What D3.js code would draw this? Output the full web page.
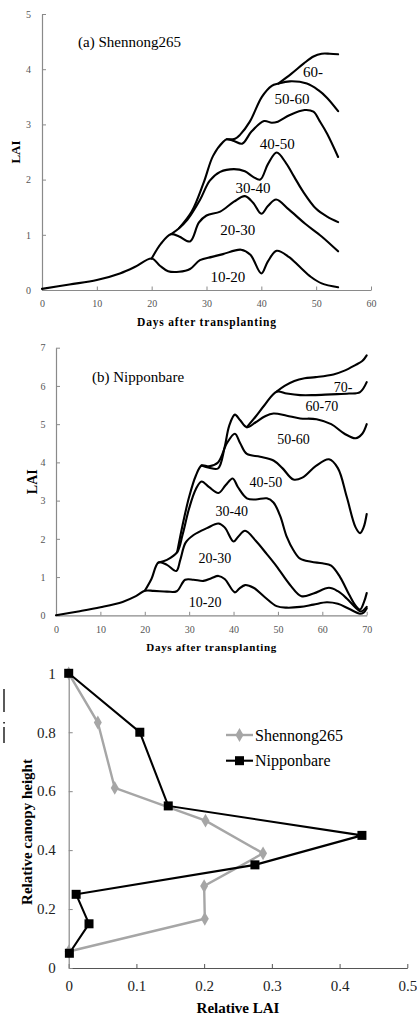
<!DOCTYPE html>
<html><head><meta charset="utf-8">
<script src="https://cdn.jsdelivr.net/npm/d3@7"></script>
<style>
html,body{margin:0;padding:0;background:#fff;}
svg{display:block;font-family:"Liberation Serif","Times New Roman",serif;}
</style></head>
<body>
<svg id="chart" width="417" height="1019"></svg>
<script>
// ---------- Panel (a) Shennong265 : cumulative LAI by layer (day, LAI) ----------
const shen_10_20 = [[0,0.02],[5,0.1],[10,0.18],[14.2,0.3],[17,0.42],[20,0.57],[21.5,0.44],[23,0.34],[25,0.33],[27,0.38],[28.8,0.54],[31,0.6],[33,0.65],[36.3,0.73],[38,0.64],[40,0.3],[41.2,0.52],[42.8,0.71],[45,0.6],[47,0.42],[49,0.24],[51,0.12],[54,0.05]];
const shen_20_30 = [[20,0.57],[21.7,0.84],[23.5,1.01],[25,0.97],[27,0.88],[28.6,1.22],[30,1.35],[32.5,1.42],[35,1.6],[37,1.7],[38.5,1.58],[40,1.38],[41.2,1.52],[42.7,1.64],[45,1.46],[48,1.2],[51,0.97],[54,0.7]];
const shen_30_40 = [[23.5,1.01],[25,1.12],[26.5,1.27],[28.8,1.63],[30.6,1.98],[32.5,2.14],[35,2.19],[37,2.15],[38.5,2.05],[39.8,2.0],[41.2,2.28],[42.8,2.49],[44.5,2.3],[46,2.05],[47.5,1.8],[50,1.47],[52,1.33],[54,1.23]];
const shen_40_50 = [[25,1.12],[27.3,1.42],[29.5,1.95],[31.2,2.43],[33.1,2.69],[33.7,2.73],[35,2.7],[36.5,2.65],[38.2,2.87],[40.5,3.06],[41.9,3.03],[43,3.05],[45.2,3.17],[47.9,3.26],[49.5,3.23],[50.7,3.05],[52,2.83],[54,2.41]];
const shen_50_60 = [[33.7,2.73],[35.2,2.74],[36.1,2.81],[37.9,3.05],[40.1,3.5],[41.9,3.7],[43.1,3.74],[45.2,3.78],[48.3,3.74],[50.4,3.62],[52,3.48],[54,3.24]];
const shen_60 = [[43.1,3.74],[45.5,3.92],[47.7,4.1],[49.5,4.23],[51,4.28],[52.5,4.28],[54,4.27]];
const shenLayers = ["10-20","20-30","30-40","40-50","50-60","60-"];
const shenLabelAt = [[33.9,0.24],[35.7,1.09],[38.5,1.85],[42.9,2.65],[45.6,3.46],[49.4,3.95]];

// ---------- Panel (b) Nipponbare ----------
const nip_10_20 = [[0,0],[5,0.1],[10,0.21],[15,0.35],[18,0.5],[20,0.64],[22,0.64],[25,0.62],[27.2,0.63],[29.1,0.93],[31,0.93],[33.2,0.9],[35,0.97],[36.6,1.03],[38,0.95],[40.3,0.6],[41.3,0.7],[42.6,0.79],[44.5,0.72],[47,0.48],[49.7,0.24],[52,0.2],[55,0.22],[58,0.28],[61,0.34],[63.5,0.3],[66,0.17],[68.5,0.04],[69.3,0.07],[70,0.18]];
const nip_20_30 = [[20,0.64],[21.5,0.95],[23.1,1.38],[25,1.32],[27.1,1.16],[28,1.45],[29.2,1.9],[31,2.1],[34,2.28],[36.6,2.4],[38,2.3],[40,1.93],[41,2.05],[42.6,2.21],[45,1.95],[47.5,1.6],[49.7,1.28],[52.7,0.8],[55.3,0.5],[58,0.57],[61.5,0.72],[63.5,0.63],[65.5,0.44],[67.5,0.2],[68.7,0.1],[70,0.22]];
const nip_30_40 = [[23.1,1.38],[25,1.45],[27.3,1.65],[28.5,2.1],[30,2.8],[31.5,3.3],[32.8,3.5],[34.5,3.35],[36.6,3.2],[38.2,3.4],[39.8,3.58],[41,3.35],[43,3.06],[45,3.03],[47.5,3.06],[49,2.95],[50.5,2.6],[52,2.05],[53.5,1.7],[55,1.48],[57.5,1.4],[60,1.36],[62,1.3],[64,1.0],[66,0.55],[67.5,0.25],[68.5,0.15],[69.4,0.35],[70,0.58]];
const nip_40_50 = [[27.3,1.65],[28.5,2.35],[30,3.1],[31.5,3.65],[32.8,3.92],[34.5,3.9],[36.5,4.0],[38.5,4.5],[40.3,4.75],[41.5,4.5],[43,4.22],[46,4.15],[49,4.05],[51,3.85],[53.5,3.55],[55.5,3.6],[58.5,3.9],[61.5,4.08],[63.5,3.85],[65.5,3.1],[67.5,2.3],[68.5,2.15],[69.3,2.3],[70,2.65]];
const nip_50_60 = [[32.8,3.92],[34.5,3.86],[36.5,3.84],[38,4.4],[39,4.95],[40.3,5.25],[41.5,5.1],[43,4.92],[45,5.05],[47,5.2],[49,5.28],[52,5.22],[55,5.15],[58.7,5.13],[62,5.0],[65,4.75],[67.5,4.63],[69,4.75],[70,5.0]];
const nip_60_70 = [[43,4.92],[45,5.2],[47,5.5],[49.7,5.85],[52,5.8],[55,5.76],[58,5.76],[62,5.78],[66,5.8],[68.5,5.84],[70,6.1]];
const nip_70 = [[49.7,5.85],[51.5,6.0],[53.7,6.13],[56,6.2],[58.5,6.23],[62.5,6.3],[65,6.4],[67.5,6.55],[69,6.65],[70,6.8]];
const nipLayers = ["10-20","20-30","30-40","40-50","50-60","60-70","70-"];
const nipLabelAt = [[33.6,0.33],[35.8,1.49],[39.6,2.71],[47.3,3.47],[53.5,4.59],[59.9,5.47],[64.7,5.96]];

// ---------- Panel (c) Relative LAI vs relative canopy height ----------
const shenHeight = [1, 0.833, 0.611, 0.5, 0.389, 0.278, 0.167, 0.056];
const shenRelLAI = [0, 0.043, 0.068, 0.202, 0.287, 0.2, 0.201, 0];
const nipHeight  = [1, 0.8, 0.55, 0.45, 0.35, 0.25, 0.15, 0.05];
const nipRelLAI  = [0, 0.105, 0.147, 0.433, 0.275, 0.011, 0.03, 0.001];
const seriesNames = ["Shennong265","Nipponbare"];

const ticksA_x = [0,10,20,30,40,50,60], ticksA_y = [0,1,2,3,4,5];
const ticksB_x = [0,10,20,30,40,50,60,70], ticksB_y = [0,1,2,3,4,5,6,7];
const ticksC_x = [0,0.1,0.2,0.3,0.4,0.5], ticksC_y = [0,0.2,0.4,0.6,0.8,1];

const FONT = "'Liberation Serif', 'Times New Roman', serif";
const svg = d3.select("#chart").attr("font-family", FONT);
const AX = "#8a8a8a", TXT = "#555";

function styleAxis(g, lineColor){
  g.attr("font-family", FONT);
  g.select(".domain").attr("stroke", lineColor).attr("stroke-width",1.2);
  g.selectAll(".tick line").attr("stroke", lineColor).attr("stroke-width",1);
  g.selectAll(".tick text").attr("fill", TXT);
}

function curvePanel(o){
  const x = d3.scaleLinear().domain(o.xd).range(o.xr);
  const y = d3.scaleLinear().domain(o.yd).range(o.yr);
  const g = svg.append("g");
  const ax = g.append("g").attr("transform",`translate(0,${o.yr[0]})`)
    .call(d3.axisBottom(x).tickValues(o.tx).tickSizeInner(-3.5).tickSizeOuter(0).tickPadding(o.padX).tickFormat(d3.format("d")))
    .attr("font-size",10);
  styleAxis(ax, AX);
  const ay = g.append("g").attr("transform",`translate(${o.xr[0]},0)`)
    .call(d3.axisLeft(y).tickValues(o.ty).tickSizeInner(-4).tickSizeOuter(0).tickPadding(o.padY).tickFormat(d3.format("d")))
    .attr("font-size",10);
  styleAxis(ay, AX);
  const line = d3.line().x(d=>x(d[0])).y(d=>y(d[1])).curve(d3.curveCatmullRom.alpha(0.5));
  g.selectAll("path.c").data(o.curves).join("path").attr("class","c")
    .attr("d", line).attr("fill","none").attr("stroke","#000").attr("stroke-width",2.1)
    .attr("stroke-linejoin","round").attr("stroke-linecap","round");
  g.selectAll("text.lab").data(o.labels).join("text").attr("class","lab")
    .attr("x",(d,i)=>x(o.labelAt[i][0])).attr("y",(d,i)=>y(o.labelAt[i][1]))
    .attr("text-anchor","middle").attr("dominant-baseline","central")
    .attr("font-size",o.labelSize).attr("fill","#000").text(d=>d);
  g.append("text").attr("x",o.title[1]).attr("y",o.title[2]).attr("font-size",15).text(o.title[0]);
  g.append("text").attr("x",(o.xr[0]+o.xr[1])/2).attr("y",o.xTitleY).attr("text-anchor","middle")
    .attr("font-weight","bold").attr("font-size",o.xTitleSize)
    .attr("textLength",o.xTitleLen).attr("lengthAdjust","spacing").text("Days after transplanting");
  g.append("text").attr("transform",`translate(${o.yTitle[0]},${o.yTitle[1]}) rotate(-90)`)
    .attr("text-anchor","middle").attr("font-weight","bold").attr("font-size",o.yTitle[2]).text("LAI");
}

curvePanel({xd:[0,60], xr:[42,371], yd:[0,5], yr:[290,14], tx:ticksA_x, ty:ticksA_y, padX:10, padY:11,
  curves:[shen_10_20,shen_20_30,shen_30_40,shen_40_50,shen_50_60,shen_60],
  labels:shenLayers, labelAt:shenLabelAt, labelSize:15,
  title:["(a) Shennong265",78,47], xTitleY:326, xTitleSize:11.5, xTitleLen:139, yTitle:[20,152,13]});

curvePanel({xd:[0,70], xr:[56,366.7], yd:[0,7], yr:[615.3,347.7], tx:ticksB_x, ty:ticksB_y, padX:11, padY:10.5,
  curves:[nip_10_20,nip_20_30,nip_30_40,nip_40_50,nip_50_60,nip_60_70,nip_70],
  labels:nipLayers, labelAt:nipLabelAt, labelSize:14,
  title:["(b) Nipponbare",92,381.5], xTitleY:650.5, xTitleSize:11, xTitleLen:130, yTitle:[37,481.7,14]});

// ---------- Panel (c) ----------
(function(){
  const x = d3.scaleLinear().domain([0,0.5]).range([68.7,407.3]);
  const y = d3.scaleLinear().domain([0,1]).range([968,673.3]);
  const g = svg.append("g");
  const ax = g.append("g").attr("transform",`translate(0,968)`)
    .call(d3.axisBottom(x).tickValues(ticksC_x).tickSizeInner(-4).tickSizeOuter(0).tickPadding(12.5).tickFormat(d=>d===0?"0":d3.format(".1f")(d)))
    .attr("font-size",15);
  styleAxis(ax, "#555");
  ax.selectAll(".tick text").attr("fill","#222");
  const ay = g.append("g").attr("transform",`translate(68.7,0)`)
    .call(d3.axisLeft(y).tickValues(ticksC_y).tickSizeInner(-4).tickSizeOuter(0).tickPadding(13).tickFormat(d=>(d===0||d===1)?String(d):d3.format(".1f")(d)))
    .attr("font-size",15);
  styleAxis(ay, AX);
  ay.selectAll(".tick text").attr("fill","#222");

  const shen = shenHeight.map((h,i)=>[shenRelLAI[i],h]);
  const nip = nipHeight.map((h,i)=>[nipRelLAI[i],h]);
  const line = d3.line().x(d=>x(d[0])).y(d=>y(d[1]));
  const GRAY = "#a6a6a6";
  g.append("path").attr("d",line(shen)).attr("fill","none").attr("stroke",GRAY).attr("stroke-width",2.4);
  const dia = d3.symbol().type(d3.symbolDiamond).size(55);
  g.selectAll("path.dm").data(shen).join("path").attr("class","dm")
    .attr("transform",d=>`translate(${x(d[0])},${y(d[1])})`).attr("d",dia).attr("fill",GRAY);
  g.append("path").attr("d",line(nip)).attr("fill","none").attr("stroke","#000").attr("stroke-width",2.1);
  g.selectAll("rect.sq").data(nip).join("rect").attr("class","sq")
    .attr("x",d=>x(d[0])-4.5).attr("y",d=>y(d[1])-4.5).attr("width",9).attr("height",9).attr("fill","#000");

  // legend
  const lg = [[GRAY,"d",735],["#000","s",760.7]];
  lg.forEach((L,i)=>{
    g.append("line").attr("x1",226).attr("x2",253).attr("y1",L[2]).attr("y2",L[2]).attr("stroke",L[0]).attr("stroke-width",i?2.1:2.4);
    if(L[1]==="d") g.append("path").attr("transform",`translate(239.5,${L[2]})`).attr("d",dia).attr("fill",L[0]);
    else g.append("rect").attr("x",235).attr("y",L[2]-4.5).attr("width",9).attr("height",9).attr("fill",L[0]);
    g.append("text").attr("x",255).attr("y",L[2]).attr("dominant-baseline","central").attr("font-size",16).text(seriesNames[i]);
  });

  g.append("text").attr("x",238).attr("y",1013).attr("text-anchor","middle").attr("font-weight","bold").attr("font-size",15).text("Relative LAI");
  g.append("text").attr("transform","translate(32,832) rotate(-90)").attr("text-anchor","middle")
    .attr("font-weight","bold").attr("font-size",15).text("Relative canopy height");

  // stray marks at far left
  g.append("line").attr("x1",4).attr("x2",4).attr("y1",689).attr("y2",712).attr("stroke","#000").attr("stroke-width",1.3);
  g.append("rect").attr("x",3.3).attr("y",722).attr("width",1.5).attr("height",1.5).attr("fill","#000");
  g.append("line").attr("x1",4).attr("x2",4).attr("y1",727).attr("y2",743).attr("stroke","#000").attr("stroke-width",1.3);
})();
</script>
</body></html>
